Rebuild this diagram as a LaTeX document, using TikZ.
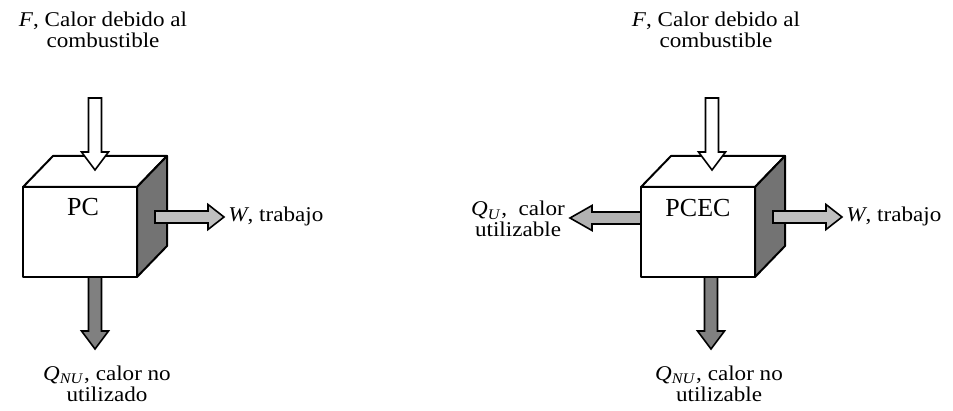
\documentclass[tikz,border=0pt]{standalone}
\usepackage{fontspec}
\setmainfont{Liberation Serif}[FakeStretch=1.1]
\newfontfamily\boxfont{Liberation Serif}
\newcommand\twolines[2]{\begin{tabular}[t]{@{}c@{}}#1\\#2\end{tabular}}
\tikzset{
  face/.style={draw=black, line width=1pt, fill=white, line join=round},
  sideface/.style={draw=black, line width=1pt, fill=black!55, line join=round},
  blockarrow/.style={draw=black, line width=0.8pt, line join=miter},
  lbl/.style={inner sep=0pt, font=\fontsize{10.5}{10.5}\selectfont},
  boxlbl/.style={inner sep=0pt, font=\boxfont\fontsize{13}{13}\selectfont},
  pics/downArrow/.style={code={
    \draw[blockarrow, fill=#1] (-6.5,0) -- (6.5,0) -- (6.5,54) -- (13.5,54) -- (0,72) -- (-13.5,54) -- (-6.5,54) -- cycle;}},
  pics/rightArrow/.style={code={
    \draw[blockarrow, fill=#1] (0,-6) -- (53,-6) -- (53,-12.5) -- (69,0) -- (53,12.5) -- (53,6) -- (0,6) -- cycle;}},
  pics/leftArrow/.style={code={
    \draw[blockarrow, fill=#1] (0,-6) -- (-49,-6) -- (-49,-12.5) -- (-71,0) -- (-49,12.5) -- (-49,6) -- (0,6) -- cycle;}},
}
\begin{document}
\begin{tikzpicture}[x=0.5pt, y=-0.5pt]
\useasboundingbox (0,0) rectangle (953,411);

% ---------- left cube (PC) ----------
\draw[face] (23,187) -- (53,156) -- (167,156) -- (137,187) -- cycle;
\draw[sideface] (137,187) -- (167,156) -- (167,246) -- (137,277) -- cycle;
\draw[face] (23,187) rectangle (137,277);

\coordinate (LinS) at (95,98);
\coordinate (LoutS) at (95,277);
\coordinate (LwS) at (155,217);
\pic at (LinS) {downArrow=white};
\pic at (LoutS) {downArrow=black!50};
\pic at (LwS) {rightArrow=black!25};

\node[boxlbl, anchor=base] (Lbox) at (83,216) {PC};
\node[lbl, anchor=base] (Ltop) at (103,27) {\twolines{\textit{F}, Calor debido al}{combustible}};
\node[lbl, anchor=base west] (LW) at (228,222) {\textit{W}, trabajo};
\node[lbl, anchor=base] (LQ) at (107,380) {\twolines{\textit{Q}\textsubscript{\textit{NU}}, calor no}{utilizado}};

% ---------- right cube (PCEC) ----------
\draw[face] (641,187) -- (671,156) -- (785,156) -- (755,187) -- cycle;
\draw[sideface] (755,187) -- (785,156) -- (785,246) -- (755,277) -- cycle;
\draw[face] (641,187) rectangle (755,277);

\coordinate (RinS) at (712,98);
\coordinate (RoutS) at (711,277);
\coordinate (RwS) at (773,217);
\coordinate (RuS) at (641,218);
\pic at (RinS) {downArrow=white};
\pic at (RoutS) {downArrow=black!50};
\pic at (RwS) {rightArrow=black!25};
\pic at (RuS) {leftArrow=black!30};

\node[boxlbl, anchor=base] (Rbox) at (698,217) {PCEC};
\node[lbl, anchor=base] (Rtop) at (716,27) {\twolines{\textit{F}, Calor debido al}{combustible}};
\node[lbl, anchor=base west] (RW) at (846,222) {\textit{W}, trabajo};
\node[lbl, anchor=base] (RQU) at (518,216) {\twolines{\textit{Q}\textsubscript{\textit{U}},\ \ calor}{utilizable}};
\node[lbl, anchor=base] (RQ) at (719,380) {\twolines{\textit{Q}\textsubscript{\textit{NU}}, calor no}{utilizable}};
\end{tikzpicture}
\end{document}
